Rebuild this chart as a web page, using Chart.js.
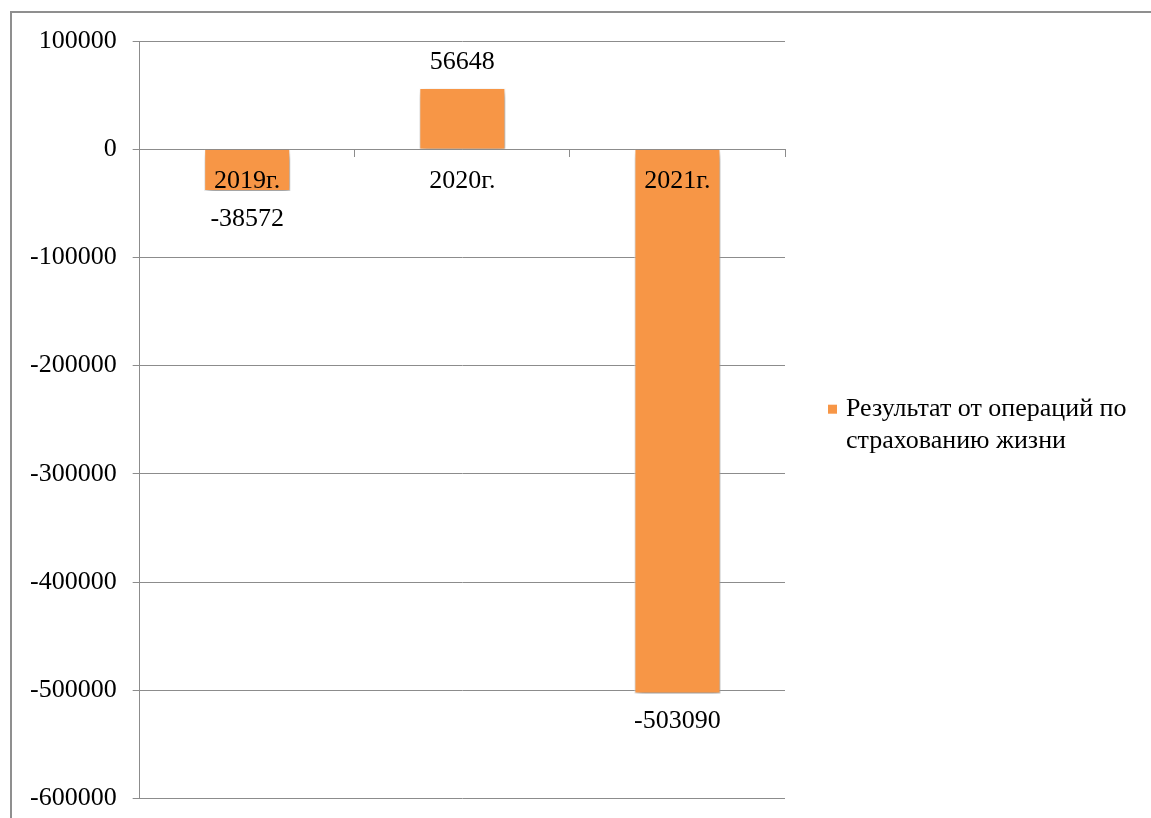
<!DOCTYPE html>
<html>
<head>
<meta charset="utf-8">
<script src="https://cdn.jsdelivr.net/npm/chart.js@4"></script>
<style>
    html, body { margin: 0; padding: 0; background: #fff; overflow: hidden; width: 1151px; height: 818px; }
    #frame {
        position: absolute; left: 10px; top: 11px;
        width: 1300px; height: 1000px;
        border: 2px solid #8f8f8f;
    }
    #wrap { position: absolute; left: 0; top: 0; width: 1151px; height: 830px; }
</style>
</head>
<body>
<div id="frame"></div>
<div id="wrap"><canvas id="barChart"></canvas></div>
<script>
// chart data
const categories = ['2019г.', '2020г.', '2021г.'];
const values = [-38572, 56648, -503090];
const seriesName = ['Результат от операций по', 'страхованию жизни'];
const yTicks = [100000, 0, -100000, -200000, -300000, -400000, -500000, -600000];

const barColor = '#F79646';
const fontFamily = '"Liberation Serif", "Times New Roman", serif';

// bar shadow
const shadowPlugin = {
    id: 'barShadow',
    beforeDatasetsDraw(chart) {
        const ctx = chart.ctx;
        ctx.save();
        ctx.shadowColor = 'rgba(0,0,0,0.45)';
        ctx.shadowBlur = 7;
        ctx.shadowOffsetX = 2;
        ctx.shadowOffsetY = 4;
    },
    afterDatasetsDraw(chart) {
        chart.ctx.restore();
    }
};

// category labels on the zero line + value labels, drawn over the bars
const textLabels = {
    id: 'textLabels',
    afterDraw(chart) {
        const ctx = chart.ctx;
        const meta = chart.getDatasetMeta(0);
        const xScale = chart.scales.x;
        const zeroY = chart.scales.y.getPixelForValue(0);
        ctx.save();
        ctx.font = '26px ' + fontFamily;
        ctx.fillStyle = '#000';
        ctx.textAlign = 'center';
        ctx.textBaseline = 'middle';
        categories.forEach((c, i) => {
            ctx.fillText(c, xScale.getPixelForValue(i), zeroY + 32);
        });
        meta.data.forEach((bar, i) => {
            const v = values[i];
            const y = v >= 0 ? bar.y - 26 : bar.y + 28;
            ctx.fillText(String(v), bar.x, y);
        });
        ctx.restore();
    }
};

// legend on the right, two lines
const sideLegend = {
    id: 'sideLegend',
    afterDraw(chart) {
        const ctx = chart.ctx;
        const area = chart.chartArea;
        const x = area.right + 43;
        const cy = (area.top + area.bottom) / 2 + 5;
        ctx.save();
        ctx.fillStyle = barColor;
        ctx.fillRect(x, cy - 20, 9, 9);
        ctx.font = '26px ' + fontFamily;
        ctx.fillStyle = '#000';
        ctx.textAlign = 'left';
        ctx.textBaseline = 'middle';
        ctx.fillText(seriesName[0], x + 18, cy - 16);
        ctx.fillText(seriesName[1], x + 18, cy + 16);
        ctx.restore();
    }
};

document.addEventListener('DOMContentLoaded', () => {
    const ctxBar = document.getElementById('barChart').getContext('2d');
    const barChart = new Chart(ctxBar, {
        type: 'bar',
        data: {
            labels: categories,
            datasets: [{
                label: seriesName.join(' '),
                data: values,
                backgroundColor: barColor,
                borderColor: '#ffffff',
                borderWidth: 1,
                barPercentage: 0.4,
                categoryPercentage: 1
            }]
        },
        plugins: [shadowPlugin, textLabels, sideLegend],
        options: {
            responsive: true,
            maintainAspectRatio: false,
            animation: false,
            layout: {
                padding: { left: 14, right: 366, top: 41, bottom: 9 }
            },
            plugins: {
                legend: { display: false },
                tooltip: { enabled: false }
            },
            scales: {
                x: {
                    position: { y: 0 },
                    offset: true,
                    grid: {
                        offset: true,
                        drawOnChartArea: false,
                        drawTicks: true,
                        tickLength: 7,
                        color: '#8c8c8c'
                    },
                    border: { display: true, color: '#8c8c8c', width: 1 },
                    ticks: { display: false }
                },
                y: {
                    min: -600000,
                    max: 100000,
                    afterBuildTicks(scale) {
                        scale.ticks = yTicks.map(v => ({ value: v }));
                    },
                    grid: {
                        color: '#8c8c8c',
                        lineWidth: 1,
                        drawTicks: true,
                        tickLength: 7
                    },
                    border: { display: true, color: '#8c8c8c', width: 1 },
                    ticks: {
                        padding: 16,
                        color: '#000',
                        font: { family: fontFamily, size: 26 },
                        callback: (v) => String(v)
                    }
                }
            }
        }
    });
});
</script>
</body>
</html>
